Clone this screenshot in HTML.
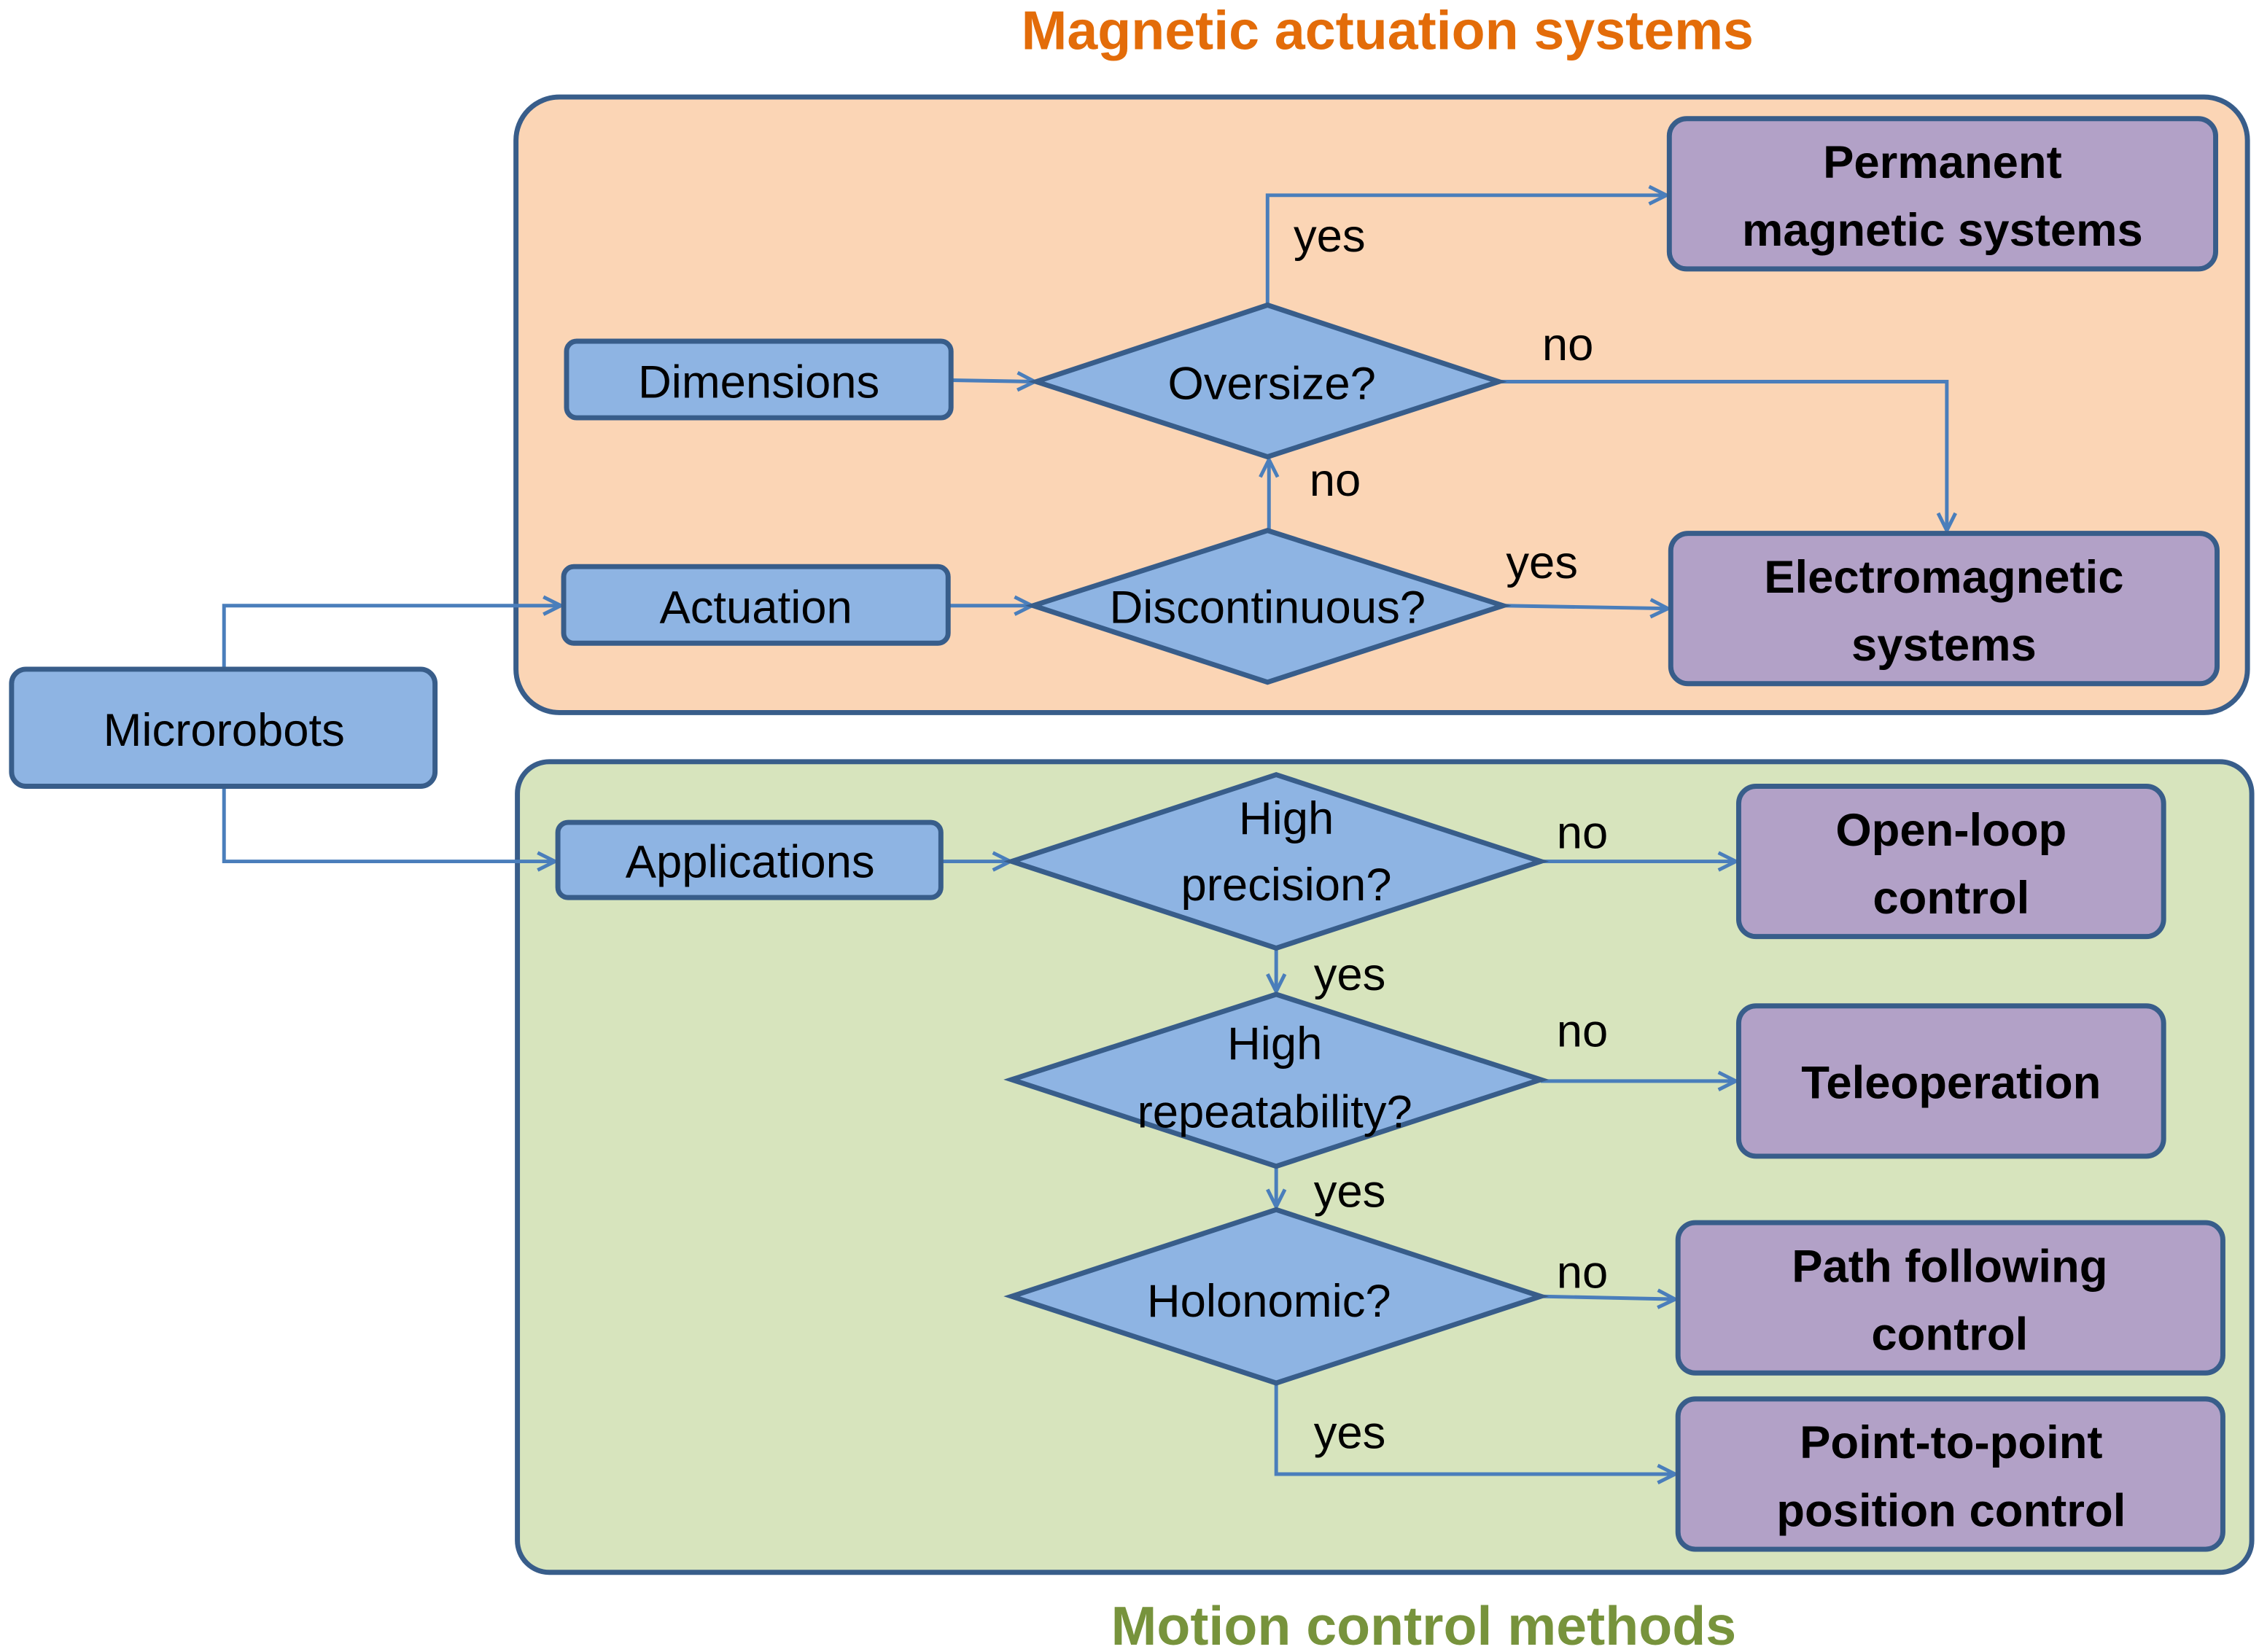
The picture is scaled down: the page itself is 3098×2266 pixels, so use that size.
<!DOCTYPE html>
<html><head><meta charset="utf-8"><style>
html,body{margin:0;padding:0;background:#fff;}
svg{display:block;}
text{font-family:"Liberation Sans",sans-serif;}
</style></head><body>
<svg width="3098" height="2266" viewBox="0 0 1563 1143" xmlns="http://www.w3.org/2000/svg">
<defs>
<marker id="a" markerWidth="16" markerHeight="16" refX="14" refY="8" orient="auto" markerUnits="userSpaceOnUse">
<path d="M2,2 L14,8 L2,14" fill="none" stroke="#4A7EBB" stroke-width="2.5"/>
</marker>
</defs>
<text x="960" y="34" font-size="38" font-weight="bold" fill="#E36C09" text-anchor="middle">Magnetic actuation systems</text>
<rect x="357" y="67" width="1198" height="426" rx="30" fill="#FBD5B5" stroke="#385D8A" stroke-width="3.5"/>
<rect x="358" y="527" width="1200" height="561" rx="22" fill="#D7E4BD" stroke="#385D8A" stroke-width="3.5"/>
<text x="985" y="1138" font-size="38" font-weight="bold" fill="#77933C" text-anchor="middle">Motion control methods</text>

<g fill="none" stroke="#4A7EBB" stroke-width="2.5">
<path d="M155,463 V419 H388" marker-end="url(#a)"/>
<path d="M155,544 V596 H384" marker-end="url(#a)"/>
<path d="M658,263 L716,264" marker-end="url(#a)"/>
<path d="M656,419 L714,419" marker-end="url(#a)"/>
<path d="M651,596 L699,596" marker-end="url(#a)"/>
<path d="M877,211 V135 H1153" marker-end="url(#a)"/>
<path d="M1037,264 H1347 V367" marker-end="url(#a)"/>
<path d="M878,367 V318" marker-end="url(#a)"/>
<path d="M1040,419 L1154,421" marker-end="url(#a)"/>
<path d="M1066,596 H1201" marker-end="url(#a)"/>
<path d="M883,656 V686" marker-end="url(#a)"/>
<path d="M1066,748 H1201" marker-end="url(#a)"/>
<path d="M883,807 V835" marker-end="url(#a)"/>
<path d="M1066,897 L1159,899" marker-end="url(#a)"/>
<path d="M883,957 V1020 H1159" marker-end="url(#a)"/>
</g>

<g fill="#8EB4E3" stroke="#385D8A" stroke-width="3.5">
<rect x="8" y="463" width="293" height="81" rx="10"/>
<rect x="392" y="236" width="266" height="53" rx="7"/>
<rect x="390" y="392" width="266" height="53" rx="7"/>
<rect x="386" y="569" width="265" height="52" rx="7"/>
<polygon points="717,264 877,211 1037,264 877,316"/>
<polygon points="715,419 877,367 1040,419 877,472"/>
<polygon points="700,596 883,536 1066,596 883,656"/>
<polygon points="700,747 883,688 1066,747 883,807"/>
<polygon points="700,897 883,837 1066,897 883,957"/>
</g>
<g fill="#B2A1C7" stroke="#385D8A" stroke-width="3.5">
<rect x="1155" y="82" width="378" height="104" rx="12"/>
<rect x="1156" y="369" width="378" height="104" rx="12"/>
<rect x="1203" y="544" width="294" height="104" rx="12"/>
<rect x="1203" y="696" width="294" height="104" rx="12"/>
<rect x="1161" y="846" width="377" height="104" rx="12"/>
<rect x="1161" y="968" width="377" height="104" rx="12"/>
</g>

<g font-size="32" fill="#000" text-anchor="middle">
<text x="155" y="516">Microrobots</text>
<text x="525" y="275">Dimensions</text>
<text x="523" y="431">Actuation</text>
<text x="519" y="607">Applications</text>
<text x="880" y="276">Oversize?</text>
<text x="877" y="431">Discontinuous?</text>
<text x="890" y="577">High</text>
<text x="890" y="623">precision?</text>
<text x="882" y="733">High</text>
<text x="882" y="780">repeatability?</text>
<text x="878" y="911">Holonomic?</text>
</g>
<g font-size="32" fill="#000">
<text x="895" y="174">yes</text>
<text x="1067" y="249">no</text>
<text x="906" y="343">no</text>
<text x="1042" y="400">yes</text>
<text x="1077" y="587">no</text>
<text x="909" y="685">yes</text>
<text x="1077" y="724">no</text>
<text x="909" y="835">yes</text>
<text x="1077" y="891">no</text>
<text x="909" y="1002">yes</text>
</g>
<g font-size="32" font-weight="bold" fill="#000" text-anchor="middle">
<text x="1344" y="123">Permanent</text>
<text x="1344" y="170">magnetic systems</text>
<text x="1345" y="410">Electromagnetic</text>
<text x="1345" y="457">systems</text>
<text x="1350" y="585">Open-loop</text>
<text x="1350" y="632">control</text>
<text x="1350" y="760">Teleoperation</text>
<text x="1349" y="887">Path following</text>
<text x="1349" y="934">control</text>
<text x="1350" y="1009">Point-to-point</text>
<text x="1350" y="1056">position control</text>
</g>
</svg>
</body></html>
